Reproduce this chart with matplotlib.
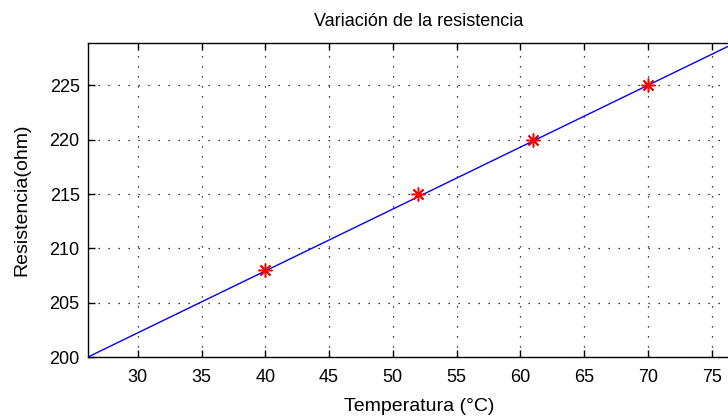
import numpy as np
import matplotlib
matplotlib.use("Agg")
import matplotlib.pyplot as plt

# ---------------------------------------------------------------------------
# Data
# ---------------------------------------------------------------------------

# measured points (temperature in degC, resistance in ohm)
temp_meas = [40, 52, 61, 70]
res_meas = [208, 215, 220, 225]

# fitted line endpoints
temp_fit = [26.1, 77.0]
res_fit = [200.0, 229.0]

xticks = [30, 35, 40, 45, 50, 55, 60, 65, 70, 75]
yticks = [200, 205, 210, 215, 220, 225]

# ---------------------------------------------------------------------------
# Plot
# ---------------------------------------------------------------------------

plt.rcParams["font.family"] = ["Liberation Sans", "DejaVu Sans"]

fig = plt.figure(figsize=(7.28, 4.17), dpi=100)
W, H = 728, 417
ax = fig.add_axes([88 / W, 60 / H, 662 / W, 314 / H])

ax.plot(temp_fit, res_fit, color="blue", linewidth=1.0, zorder=3)
# asterisk marker: 8 spokes
ax.plot(temp_meas, res_meas, linestyle="none", marker=(8, 2, 0), color="red",
        markersize=10, markeredgewidth=1.1, zorder=4)

ax.set_xlim(26.1, 78)
ax.set_ylim(200, 228.9)
ax.set_xticks(xticks)
ax.set_yticks(yticks)

ax.grid(True, color="black", linestyle=(0, (1, 7)), linewidth=0.9)
ax.tick_params(direction="in", length=5, width=1, top=True, right=True,
               colors="black", labelsize=13)
ax.tick_params(axis="x", pad=9)
ax.tick_params(axis="y", pad=6)
for sp in ax.spines.values():
    sp.set_linewidth(1.0)

ax.set_title("Variación de la resistencia", fontsize=13, pad=12)
ax.set_xlabel("Temperatura (°C)", fontsize=14, labelpad=8)
ax.set_ylabel("Resistencia(ohm)", fontsize=14, labelpad=14)

fig.savefig("out.png", dpi=100)
